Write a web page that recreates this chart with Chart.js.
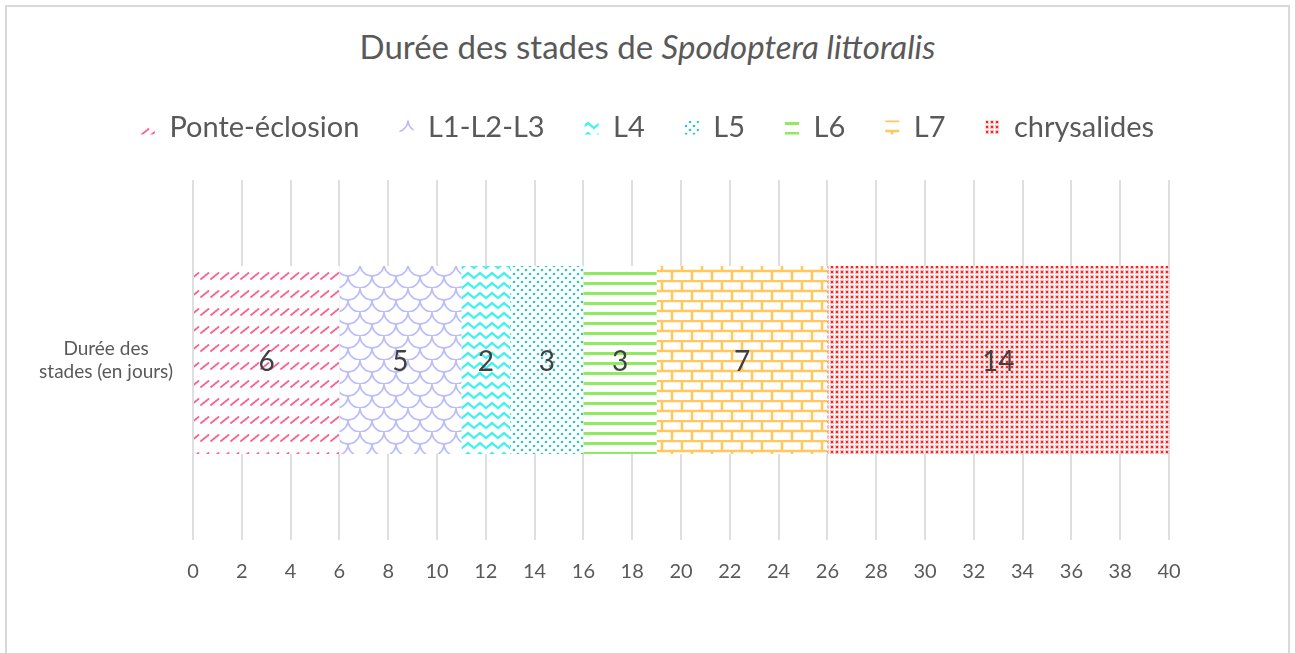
<!DOCTYPE html>
<html lang="fr">
<head>
<meta charset="utf-8">
<title>Durée des stades de Spodoptera littoralis</title>
<script src="https://cdn.jsdelivr.net/npm/chart.js@4.4.1/dist/chart.umd.min.js"></script>
<style>
    html, body { margin: 0; padding: 0; background: #fff; overflow: hidden; }
    .frame {
        position: absolute; left: 5px; top: 5px; width: 1281px; height: 700px;
        border: 2px solid #d9d9d9;
    }
    .chart-title {
        position: absolute; left: 0; top: 27px; width: 1295px;
        text-align: center; font: 33px Lato, sans-serif; line-height: 38px; color: #595959;
    }
    .chart-wrap { position: absolute; left: 0; top: 0; width: 1295px; height: 653px; }
</style>
</head>
<body>
<div class="frame"></div>
<div class="chart-title">Durée des stades de <i>Spodoptera littoralis</i></div>
<div class="chart-wrap"><canvas id="stadesChart" width="1295" height="653"></canvas></div>

<script>
// stages, in order along the bar
const stages = ['Ponte-éclosion', 'L1-L2-L3', 'L4', 'L5', 'L6', 'L7', 'chrysalides'];
// duration of each stage, in days
const durations = [6, 5, 2, 3, 3, 7, 14];
const categories = [['Durée des', 'stades (en jours)']];
const xMin = 0;
const xMax = 40;
const xStep = 2;

const stageColors = ['#ff5c8d', '#bdbdfc', '#3ff2f2', '#2cc4c4', '#8eea5f', '#ffc75e', '#ff2020'];

const makePattern = (w, h, draw) => {
    const c = document.createElement('canvas');
    c.width = w; c.height = h;
    const g = c.getContext('2d');
    g.fillStyle = '#fff';
    g.fillRect(0, 0, w, h);
    draw(g);
    return g.createPattern(c, 'repeat');
};

const patternDrawers = [
    // dashed upward diagonal
    col => makePattern(10, 18, p => {
        p.strokeStyle = col; p.lineWidth = 1.8; p.lineCap = 'round';
        p.setLineDash([1.6, 1.2]);
        p.beginPath(); p.moveTo(1, 9); p.lineTo(8.5, 3); p.stroke();
    }),
    // scales
    col => makePattern(24, 24, p => {
        p.strokeStyle = col; p.lineWidth = 1.8;
        p.beginPath(); p.arc(12, 0, 12, 0, Math.PI); p.stroke();
        p.beginPath(); p.arc(0, 12, 12, 0, Math.PI / 2); p.stroke();
        p.beginPath(); p.arc(24, 12, 12, Math.PI / 2, Math.PI); p.stroke();
    }),
    // zigzag
    col => makePattern(12, 10, p => {
        p.strokeStyle = col; p.lineWidth = 2.2;
        p.beginPath(); p.moveTo(-3, 7); p.lineTo(0, 3); p.lineTo(6, 8); p.lineTo(12, 3); p.lineTo(15, 7); p.stroke();
    }),
    // dots
    col => makePattern(8, 8, p => {
        p.fillStyle = col;
        p.beginPath(); p.arc(2, 2, 1.3, 0, Math.PI * 2); p.fill();
        p.beginPath(); p.arc(6, 6, 1.3, 0, Math.PI * 2); p.fill();
    }),
    // horizontal lines
    col => makePattern(4, 10, p => {
        p.fillStyle = col; p.fillRect(0, 2, 4, 3);
    }),
    // bricks
    col => makePattern(20, 20, p => {
        p.strokeStyle = col; p.lineWidth = 2.5;
        p.beginPath();
        p.moveTo(0, 1); p.lineTo(20, 1);
        p.moveTo(0, 11); p.lineTo(20, 11);
        p.moveTo(2, 1); p.lineTo(2, 11);
        p.moveTo(12, 11); p.lineTo(12, 21);
        p.moveTo(12, -1); p.lineTo(12, 1);
        p.stroke();
    }),
    // dense dots
    col => makePattern(5, 5, p => {
        p.fillStyle = '#ffbcbc'; p.fillRect(0, 0, 4, 4);
        p.fillStyle = col; p.fillRect(1, 1, 2, 2);
    })
];

const valueLabels = {
    id: 'valueLabels',
    afterDatasetsDraw(chart) {
        const ctx = chart.ctx;
        ctx.save();
        ctx.font = '28px Lato';
        ctx.fillStyle = '#404040';
        ctx.textAlign = 'center';
        ctx.textBaseline = 'middle';
        chart.data.datasets.forEach((ds, i) => {
            chart.getDatasetMeta(i).data.forEach((bar, j) => {
                const p = bar.getCenterPoint();
                ctx.fillText(ds.data[j], p.x, p.y + 2);
            });
        });
        ctx.restore();
    }
};

const build = () => {
    const datasets = stages.map((name, i) => ({
        label: name,
        data: [durations[i]],
        backgroundColor: patternDrawers[i](stageColors[i]),
        borderWidth: 0,
        barPercentage: 0.87,
        categoryPercentage: 0.6
    }));

    new Chart(document.getElementById('stadesChart'), {
        type: 'bar',
        data: { labels: categories, datasets },
        plugins: [valueLabels],
        options: {
            indexAxis: 'y',
            responsive: false,
            animation: false,
            layout: { padding: { top: 73, bottom: 49, left: 0, right: 0 } },
            plugins: {
                legend: {
                    position: 'top',
                    labels: {
                        boxWidth: 14, boxHeight: 14, padding: 40,
                        color: '#595959', font: { family: 'Lato', size: 29 }
                    }
                },
                tooltip: { enabled: false }
            },
            scales: {
                x: {
                    type: 'linear', stacked: true, min: xMin, max: xMax,
                    grid: { color: '#dedede', lineWidth: 2, drawTicks: false },
                    border: { display: false },
                    ticks: { stepSize: xStep, padding: 20, color: '#595959', font: { family: 'Lato', size: 20 } }
                },
                x2: {
                    type: 'linear', position: 'top', display: true,
                    grid: { display: false }, border: { display: false }, ticks: { display: false },
                    afterFit: s => { s.height = 28; }
                },
                y: {
                    stacked: true,
                    grid: { display: false, drawTicks: false }, border: { display: false },
                    ticks: { crossAlign: 'center', padding: 20, color: '#595959', font: { family: 'Lato', size: 19 } },
                    afterFit: s => { s.width = 193; }
                },
                y2: {
                    type: 'linear', position: 'right', display: true,
                    grid: { display: false }, border: { display: false }, ticks: { display: false },
                    afterFit: s => { s.width = 126; }
                }
            }
        }
    });
};

Promise.all([
    document.fonts.load('29px Lato'),
    document.fonts.load('italic 33px Lato')
]).then(build, build);
</script>
</body>
</html>
